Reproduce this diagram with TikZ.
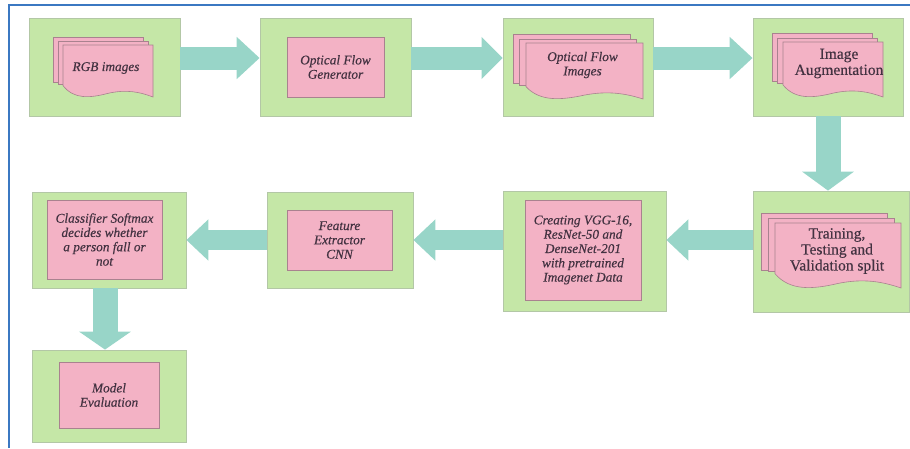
\documentclass[tikz,border=0pt]{standalone}
\usepackage{fontspec}
\setmainfont{Liberation Serif}
\newfontfamily\labelfont[FakeBold=0.35]{Liberation Serif}
\usetikzlibrary{arrows.meta,calc}
\definecolor{frameblue}{HTML}{3B78C2}
\definecolor{boxgreen}{HTML}{C5E7A7}
\definecolor{boxgreenline}{HTML}{B3C7A6}
\definecolor{pinkfill}{HTML}{F3B2C5}
\definecolor{pinkline}{HTML}{A9828F}
\definecolor{arrowteal}{HTML}{98D5C8}
\definecolor{txt}{HTML}{433241}
\tikzset{
  greenbox/.style={draw=boxgreenline, fill=boxgreen, line width=0.8pt, inner sep=0pt},
  pinkbox/.style={draw=pinkline, fill=pinkfill, line width=0.6pt, inner sep=0pt},
  itlabel/.style={text=txt, align=center, font=\labelfont\fontsize{13.3}{14.3}\selectfont\itshape},
  uplabel/.style={text=txt, align=center, font=\labelfont\fontsize{15.5}{16}\selectfont},
  blockarrow/.style n args={3}{draw=arrowteal, fill=arrowteal, line width=#1, -{Triangle[length=#2,width=#3]}},
}
\newcommand{\multidoc}[4]{%
  \begin{scope}[shift={(#1,#2)}, x=#3pt, y=-#4pt]
    \path[pinkbox] (-0.11,-0.15) rectangle (0.89,0.72);
    \path[pinkbox] (-0.055,-0.075) rectangle (0.945,0.75);
    \path[pinkbox] (0,0) -- (1,0) -- (1,1)
      .. controls (0.85,0.9) and (0.7,0.85) .. (0.5,0.93)
      .. controls (0.3,1.02) and (0.12,1.05) .. (0,0.78) -- cycle;
  \end{scope}}
\begin{document}
\begin{tikzpicture}[x=1pt,y=-1pt]
\useasboundingbox (0,0) rectangle (910,448);
% frame
\draw[frameblue, line width=2pt] (8.5,448) -- (8.5,4.5) -- (910,4.5);

% green boxes
\node[greenbox, minimum width=151pt, minimum height=98pt] (b1) at (104.5,67) {};
\node[greenbox, minimum width=151pt, minimum height=98pt] (b2) at (335.5,67) {};
\node[greenbox, minimum width=150pt, minimum height=98pt] (b3) at (578,67) {};
\node[greenbox, minimum width=150pt, minimum height=98pt] (b4) at (828,67) {};
\node[greenbox, minimum width=156pt, minimum height=121pt] (b5) at (831,251.5) {};
\node[greenbox, minimum width=163pt, minimum height=120pt] (b6) at (584.5,251) {};
\node[greenbox, minimum width=146pt, minimum height=96pt] (b7) at (340,240) {};
\node[greenbox, minimum width=154pt, minimum height=96pt] (b8) at (109,240) {};
\node[greenbox, minimum width=154pt, minimum height=92pt] (b9) at (109,396) {};

% document stacks
\multidoc{63}{45}{90}{52}
\node[itlabel] (t1) at (106,68) {RGB images};
\multidoc{526}{43}{117}{56}
\node[itlabel] (t3) at (582.5,65) {Optical Flow\\Images};
\multidoc{783}{42}{100}{55}
\node[uplabel] (t4) at (839,63.5) {Image\\Augmentation};
\multidoc{775}{223}{126}{65}
\node[uplabel] (t5) at (837,251) {Training,\\Testing and\\Validation split};

% pink process boxes
\node[pinkbox, itlabel, minimum width=97pt, minimum height=60pt] (p2) at (335.5,67) {Optical Flow\\Generator};
\node[pinkbox, itlabel, minimum width=116pt, minimum height=100pt] (p6) at (583,250) {Creating VGG-16,\\ResNet-50 and\\DenseNet-201\\with pretrained\\Imagenet Data};
\node[pinkbox, itlabel, minimum width=105pt, minimum height=60pt] (p7) at (339.5,240) {Feature\\Extractor\\CNN};
\node[pinkbox, itlabel, minimum width=115pt, minimum height=79pt] (p8) at (104.5,239.5) {Classifier Softmax\\decides whether\\a person fall or\\not};
\node[pinkbox, itlabel, minimum width=100pt, minimum height=66pt] (p9) at (109,395) {Model\\Evaluation};

% block arrows
\draw[blockarrow={23pt}{23pt}{41pt}] ([yshift=9pt]b1.east) -- ([yshift=9pt]b2.west);
\draw[blockarrow={23pt}{21pt}{41pt}] ([yshift=9pt]b2.east) -- ([yshift=9pt]b3.west);
\draw[blockarrow={23pt}{23pt}{41pt}] ([yshift=9pt]b3.east) -- ([yshift=9pt]b4.west);
\draw[blockarrow={25pt}{19pt}{51pt}] (b4.south) -- (b4.south |- b5.north);
\coordinate (t56) at ([yshift=11pt]b6.east);
\draw[blockarrow={20pt}{22pt}{40pt}] (b5.west |- t56) -- (t56);
\draw[blockarrow={20pt}{22pt}{40pt}] ([yshift=11pt]b6.west) -- (b7.east);
\draw[blockarrow={20pt}{22pt}{40pt}] (b7.west) -- (b8.east);
\draw[blockarrow={25pt}{18pt}{51pt}] ([xshift=-4pt]b8.south) -- ([xshift=-4pt]b9.north);
\end{tikzpicture}
\end{document}
